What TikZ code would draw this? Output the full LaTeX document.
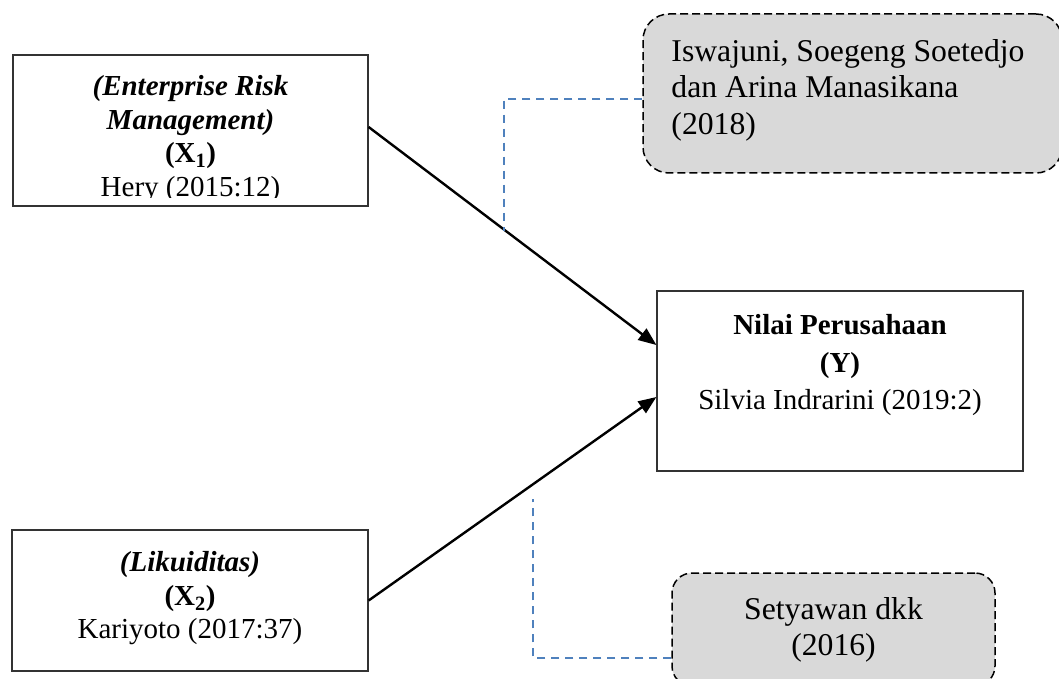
\documentclass[tikz,border=0pt]{standalone}
\usepackage{fontspec}
\setmainfont{Liberation Serif}
\usetikzlibrary{positioning,arrows.meta}
\definecolor{linkblue}{RGB}{79,129,189}
\definecolor{refgray}{RGB}{217,217,217}

\begin{document}
\begin{tikzpicture}[x=1pt,y=-1pt,
    varbox/.style={draw=black!80,line width=1.2pt,inner sep=0pt},
    refbox/.style={draw,fill=refgray,line width=1.5pt,dash pattern=on 8pt off 4pt,inner sep=0pt},
    txt/.style={inner sep=0pt,align=center,font=\fontsize{29}{33.5}\selectfont},
    reftxt/.style={inner sep=0pt,font=\fontsize{31.7}{36.5}\selectfont},
    arr/.style={line width=2.4pt,-{Triangle[length=18pt,width=14pt]}},
    link/.style={linkblue,line width=1.5pt,dash pattern=on 8pt off 6pt}]
  \useasboundingbox (0,0) rectangle (1059,679);

  % variabel
  \node[varbox,minimum width=355pt,minimum height=151pt] (x1) at (190.5,130.5) {};
  \node[varbox,minimum width=356pt,minimum height=141pt] (x2) at (190,600.5) {};
  \node[varbox,minimum width=366pt,minimum height=180pt] (nilai) at (840,381) {};
  \begin{scope}
    \clip (x1.north west) rectangle ([yshift=9pt]x1.south east);
    \node[txt,below=21pt of x1.north] (x1txt) {\textbf{\textit{(Enterprise Risk}}\\
      \textbf{\textit{Management)}}\\ \textbf{(X\textsubscript{1})}\\ Hery (2015:12)};
  \end{scope}
  \node[txt,below=22pt of x2.north] (x2txt) {\textbf{\textit{(Likuiditas)}}\\
    \textbf{(X\textsubscript{2})}\\ Kariyoto (2017:37)};
  \node[txt,font=\fontsize{29}{37.5}\selectfont,below=24pt of nilai.north] (nilaitxt)
    {\textbf{Nilai Perusahaan}\\ \textbf{(Y)}\\ Silvia Indrarini (2019:2)};

  % rujukan
  \node[refbox,rounded corners=26pt,minimum width=419pt,minimum height=159pt] (iswajuni) at (852.5,93.5) {};
  \node[refbox,rounded corners=20pt,minimum width=323pt,minimum height=113pt] (setyawan) at (833.5,629.5) {};
  \node[reftxt,align=left,below right=26pt and 29pt of iswajuni.north west] (iswajunitxt)
    {Iswajuni, Soegeng Soetedjo\\ dan Arina Manasikana\\ (2018)};
  \node[reftxt,align=center,below=25pt of setyawan.north] (setyawantxt) {Setyawan dkk\\ (2016)};

  % hubungan
  \draw[arr] ([yshift=3.5pt]x1.east) -- ([yshift=36pt]nilai.west);
  \draw[arr] (x2.east) -- ([yshift=-16pt]nilai.west);

  \coordinate (c1) at (504,231);
  \coordinate (c2) at (533,499);
  \draw[link] ([yshift=-5.5pt]iswajuni.west) -| (c1);
  \draw[link] ([yshift=-28.5pt]setyawan.west) -| (c2);
\end{tikzpicture}
\end{document}
